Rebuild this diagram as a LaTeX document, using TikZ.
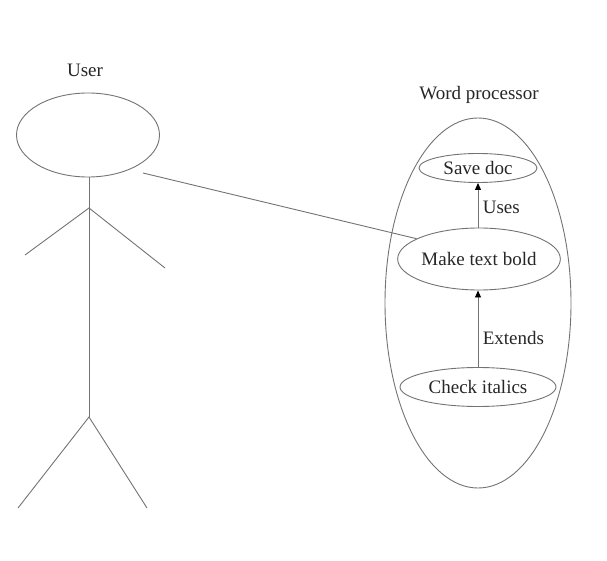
\documentclass[tikz,border=0pt]{standalone}
\usepackage{fontspec}
\setmainfont{Liberation Serif}
\usetikzlibrary{arrows.meta,shapes.geometric}
\begin{document}
\begin{tikzpicture}[x=1pt,y=-1pt,
  line/.style={draw=black!55,line width=0.9pt},
  usecase/.style={ellipse,line,inner sep=0pt},
  lbl/.style={text=black!85,font=\rmfamily\fontsize{19}{21}\selectfont},
  dep/.style={line,-{Triangle[length=7pt,width=6pt,color=black]}}]
\useasboundingbox (0,0) rectangle (607,561);
% actor
\node[lbl] (userlbl) at (85,70) {User};
\node[usecase,minimum width=143pt,minimum height=84pt] (head) at (88,135) {};
\coordinate (neck) at (89,177);
\coordinate (shoulder) at (89,208);
\coordinate (hip) at (89,417);
\coordinate (lhand) at (25,255);
\coordinate (rhand) at (165,268);
\coordinate (lfoot) at (18,508);
\coordinate (rfoot) at (147,508);
\draw[line] (neck) -- (hip);
\draw[line] (lhand) -- (shoulder) -- (rhand);
\draw[line] (lfoot) -- (hip) -- (rfoot);
% system boundary
\node[lbl] (syslbl) at (479,95) {Word processor};
\node[usecase,minimum width=186pt,minimum height=370pt] (sys) at (478,303) {};
% use cases
\node[usecase,lbl,minimum width=118pt,minimum height=29pt] (save) at (478,168) {Save doc};
\node[usecase,lbl,minimum width=160pt,minimum height=62pt] (bold) at (479,259) {Make text bold};
\node[usecase,lbl,minimum width=156pt,minimum height=39pt] (ital) at (478,387) {Check italics};
% relations
\coordinate (assocstart) at (143,173);
\draw[line] (assocstart) -- (bold.162);
\draw[dep] (bold.north -| save.south) -- (save.south)
  node[midway,right,lbl,xshift=1pt,yshift=-2pt] (uses) {Uses};
\draw[dep] (ital.north) -- (bold.south -| ital.north)
  node[pos=0.38,right,lbl,xshift=1pt] (ext) {Extends};
\end{tikzpicture}
\end{document}
